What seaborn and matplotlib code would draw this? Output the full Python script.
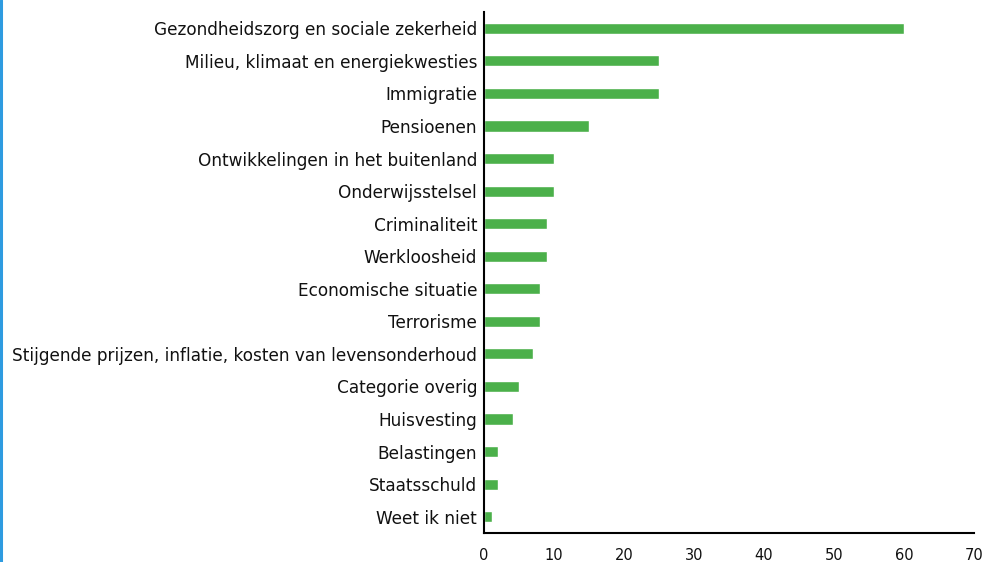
import pandas as pd
import matplotlib.pyplot as plt
import seaborn as sns
from matplotlib.lines import Line2D

# Data
onderwerpen = [
    'Gezondheidszorg en sociale zekerheid',
    'Milieu, klimaat en energiekwesties',
    'Immigratie',
    'Pensioenen',
    'Ontwikkelingen in het buitenland',
    'Onderwijsstelsel',
    'Criminaliteit',
    'Werkloosheid',
    'Economische situatie',
    'Terrorisme',
    'Stijgende prijzen, inflatie, kosten van levensonderhoud',
    'Categorie overig',
    'Huisvesting',
    'Belastingen',
    'Staatsschuld',
    'Weet ik niet',
]
waarden = [60, 25, 25, 15, 10, 10, 9, 9, 8, 8, 7, 5, 4.2, 2, 2, 1.1]
x_ticks = [0, 10, 20, 30, 40, 50, 60, 70]

df = pd.DataFrame({'onderwerp': onderwerpen, 'waarde': waarden})

sns.set_theme(style="white")
plt.rcParams['font.family'] = ['DejaVu Sans']

fig = plt.figure(figsize=(9.84, 5.62), dpi=100)
ax = fig.add_axes([484 / 984, 1 - 533 / 562, (974 - 484) / 984, (533 - 12) / 562])

sns.barplot(data=df, x='waarde', y='onderwerp', orient='h', color='#4bb04a',
            saturation=1, width=0.34, ax=ax)

ax.set_xlim(0, 70)
ax.set_ylim(15.5, -0.5)
ax.set_xticks(x_ticks)
ax.set_xlabel('')
ax.set_ylabel('')
ax.tick_params(axis='y', length=0, pad=5, labelsize=12.2, colors='#111111')
ax.tick_params(axis='x', length=0, pad=11, labelsize=10.5, colors='#111111')

for side in ['top', 'right']:
    ax.spines[side].set_visible(False)
for side in ['left', 'bottom']:
    ax.spines[side].set_color('black')
    ax.spines[side].set_linewidth(1.5)

# blauwe rand links
fig.add_artist(Line2D([0.001, 0.001], [0, 1], color='#2e9be0', linewidth=2.2,
                      transform=fig.transFigure))

fig.savefig('out.png', dpi=100)
